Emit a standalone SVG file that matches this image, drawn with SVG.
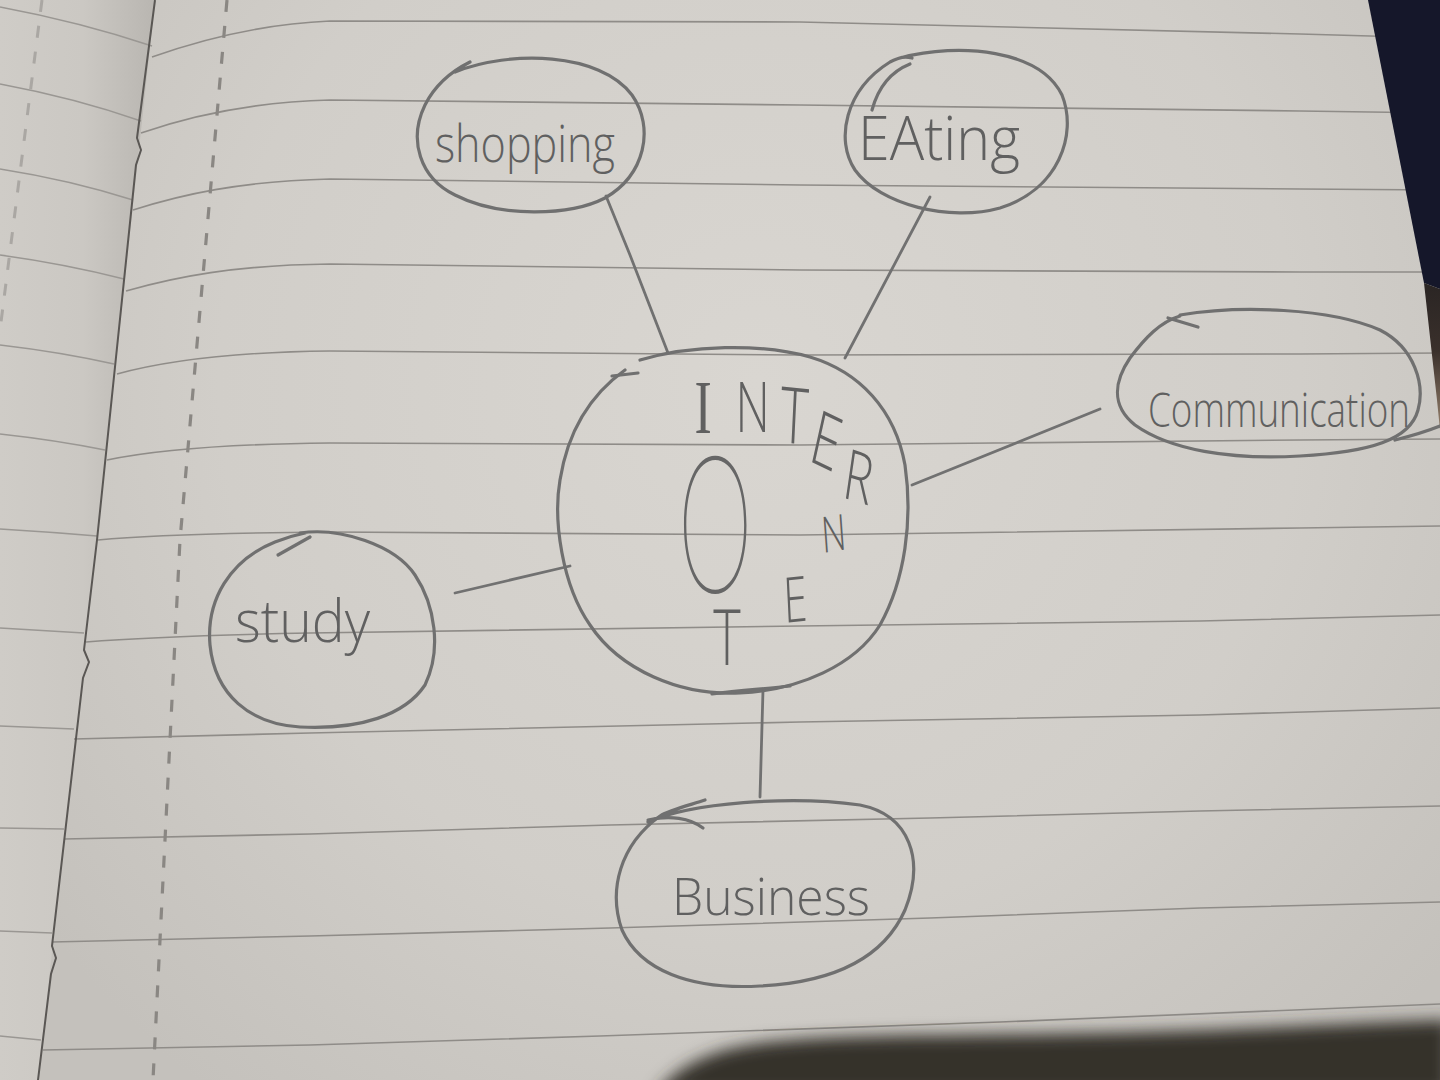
<svg xmlns="http://www.w3.org/2000/svg" width="1440" height="1080" viewBox="0 0 1440 1080">
<defs>
<style>
.pencil{fill:none;stroke:#707070;stroke-width:3.2;stroke-linecap:round;stroke-linejoin:round}
.conn{fill:none;stroke:#717171;stroke-width:2.8;stroke-linecap:round}
.rule{fill:none;stroke:#8f8c88;stroke-width:1.6}
.lrule{fill:none;stroke:#9a9793;stroke-width:1.5}
.hand{font-family:"Open Sans","Liberation Sans",sans-serif;font-weight:300;fill:#606060}
</style>
<radialGradient id="paperG" cx="760" cy="380" r="900" gradientUnits="userSpaceOnUse">
<stop offset="0" stop-color="#d9d6d1"/>
<stop offset="0.6" stop-color="#d1cec9"/>
<stop offset="1" stop-color="#c4c1bc"/>
</radialGradient>
<linearGradient id="leftG" x1="0" y1="0" x2="150" y2="0" gradientUnits="userSpaceOnUse">
<stop offset="0" stop-color="#cfccc7"/>
<stop offset="0.55" stop-color="#cbc8c3"/>
<stop offset="1" stop-color="#bab7b2"/>
</linearGradient>
<linearGradient id="brownG" x1="0" y1="283" x2="0" y2="420" gradientUnits="userSpaceOnUse">
<stop offset="0" stop-color="#2a2524"/>
<stop offset="0.5" stop-color="#3a302b"/>
<stop offset="1" stop-color="#8a7664"/>
</linearGradient>
<filter id="blur" x="-10%" y="-30%" width="120%" height="160%">
<feGaussianBlur stdDeviation="8"/>
</filter>
</defs>

<g id="paper">
<rect x="0" y="0" width="1440" height="1080" fill="url(#paperG)"/>
<path d="M0 0 L155 0 L97 540 L38 1080 L0 1080 Z" fill="url(#leftG)"/>
<g class="lrule">
<path d="M0 7 Q80 22 152 46"/>
<path d="M0 84 Q75 98 141 121"/>
<path d="M0 169 Q70 180 133 200"/>
<path d="M0 255 Q65 264 124 279"/>
<path d="M0 345 Q60 352 114 364"/>
<path d="M0 434 Q55 440 105 450"/>
<path d="M0 529 Q50 532 97 536"/>
<path d="M0 628 L84 633"/>
<path d="M0 726 L74 729"/>
<path d="M0 828 L64 829"/>
<path d="M0 931 L52 933"/>
<path d="M0 1036 L41 1040"/>
</g>
<path d="M42 0 L0 330" fill="none" stroke="#aaa7a3" stroke-width="3" stroke-dasharray="12 14"/>
<g class="rule">
<path d="M152 57 C200 40 260 24 330 21 L800 22 L1300 34 L1440 38"/>
<path d="M141 133 C190 116 250 102 330 100 L800 105 L1300 111 L1440 113"/>
<path d="M133 210 C180 195 240 181 330 179 L800 185 L1300 189 L1440 190"/>
<path d="M126 291 C175 277 235 265 330 264 L800 270 L1300 272 L1440 272"/>
<path d="M117 374 C165 361 230 352 330 351 L800 355 L1300 354 L1440 353"/>
<path d="M107 460 C155 450 220 444 330 443 L800 445 L1300 440 L1440 439"/>
<path d="M98 540 C150 535 220 533 330 532 L800 535 L1300 528 L1440 526"/>
<path d="M86 642 Q160 636 310 633 L800 626 L1200 621 L1440 615"/>
<path d="M74 739 L310 733 L800 722 L1200 715 L1440 708"/>
<path d="M64 839 L310 834 L610 825 L930 818 L1200 811 L1440 806"/>
<path d="M52 942 L310 936 L610 928 L930 918 L1200 908 L1440 902"/>
<path d="M43 1050 L310 1045 L600 1036 L1000 1022 L1440 1004"/>
</g>
<path d="M227 0 L180 540 L153 1080" fill="none" stroke="#8a8783" stroke-width="3.2" stroke-dasharray="12 14"/>
<path d="M155 0 L137 138 L141 150 L136 165 L97 540 L84 650 L89 662 L83 678 L52 946 L56 958 L51 974 L38 1080" fill="none" stroke="#5a5754" stroke-width="2"/>
<path d="M1368 0 L1440 0 L1440 289 L1424 283 Z" fill="#15172a"/>
<path d="M1424 283 L1440 289 L1440 430 L1437 400 Z" fill="url(#brownG)"/>
<path d="M655 1095 C680 1062 720 1046 780 1041 C850 1034 950 1036 1100 1033 C1250 1030 1330 1024 1450 1020 L1450 1095 Z" fill="#36302c" filter="url(#blur)"/>
</g>

<g id="connectors">
<path class="conn" d="M606 196 L630 255 L668 353"/>
<path class="conn" d="M930 197 L845 358"/>
<path class="conn" d="M1100 409 L912 485"/>
<path class="conn" d="M455 593 L570 566"/>
<path class="conn" d="M763 690 L760 797"/>
</g>

<g id="node-internet">
<path class="pencil" d="M640 360 C690 345 760 343 810 357 C860 372 895 410 905 465 C913 520 905 580 880 625 C855 665 800 690 740 693 C680 696 620 670 590 625 C562 585 553 520 560 480 C568 430 590 395 625 370"/>
<path class="pencil" d="M612 376 L638 373"/>
<path class="pencil" d="M712 694 C740 690 765 689 790 686"/>
<text class="hand" text-anchor="middle" transform="scale(0.68 1)">
<tspan x="1034" y="433" font-size="76" font-family="Liberation Serif" font-weight="400">I</tspan><tspan x="1107" y="432" font-size="70">N</tspan><tspan x="1166" y="442" font-size="78" rotate="4">T</tspan><tspan x="1208" y="460" font-size="76" rotate="18">E</tspan><tspan x="1258" y="497" font-size="70" rotate="12">R</tspan><tspan x="1228" y="553" font-size="50" rotate="-6">N</tspan><tspan x="1171" y="623" font-size="63" rotate="-4">E</tspan><tspan x="1069" y="665" font-size="77">T</tspan>
</text>
<text text-anchor="middle" transform="scale(0.56 1)" x="1277" y="592" font-size="185" style="font-family:Inter,'Open Sans',sans-serif;font-weight:100;fill:#666">O</text>
</g>

<g id="node-shopping">
<path class="pencil" d="M455 72 C510 50 600 52 632 95 C655 128 645 175 605 198 C570 216 500 218 455 195 C420 178 408 140 425 105 C435 85 450 72 470 62"/>
<text class="hand" x="435" y="162" font-size="52" textLength="180" lengthAdjust="spacingAndGlyphs">shopping</text>
</g>

<g id="node-eating">
<path class="pencil" d="M900 58 C960 42 1040 50 1062 95 C1078 135 1058 190 1000 208 C950 222 880 205 855 170 C835 140 845 90 890 62 C900 57 905 56 912 58"/>
<path class="pencil" d="M872 110 C878 88 890 72 910 64"/>
<text class="hand" x="858" y="160" font-size="60" textLength="162" lengthAdjust="spacingAndGlyphs">EAting</text>
</g>

<g id="node-communication">
<path class="pencil" d="M1180 315 C1240 305 1330 308 1380 330 C1415 348 1425 385 1418 410 C1410 440 1370 452 1300 456 C1230 460 1170 450 1135 425 C1110 405 1115 380 1130 358 C1145 338 1160 322 1180 316"/>
<path class="pencil" d="M1168 318 L1198 327"/>
<path class="pencil" d="M1395 440 C1415 435 1430 430 1440 426"/>
<text class="hand" x="1148" y="427" font-size="48" textLength="262" lengthAdjust="spacingAndGlyphs">Communication</text>
</g>

<g id="node-study">
<path class="pencil" d="M300 533 C340 527 395 545 415 575 C435 605 442 650 425 685 C405 715 360 730 300 727 C250 724 215 695 210 645 C206 600 230 560 275 542 C285 538 295 535 305 533"/>
<path class="pencil" d="M278 555 L310 537"/>
<text class="hand" x="235" y="642" font-size="58" textLength="135" lengthAdjust="spacingAndGlyphs">study</text>
</g>

<g id="node-business">
<path class="pencil" d="M648 822 C690 803 790 795 860 805 C910 815 925 860 905 910 C885 955 840 982 760 986 C690 990 640 970 622 930 C608 890 620 845 660 816 C670 810 690 805 705 800"/>
<path class="pencil" d="M648 820 C670 815 690 818 703 828"/>
<text class="hand" x="672" y="915" font-size="52" textLength="198" lengthAdjust="spacingAndGlyphs">Business</text>
</g>
</svg>
